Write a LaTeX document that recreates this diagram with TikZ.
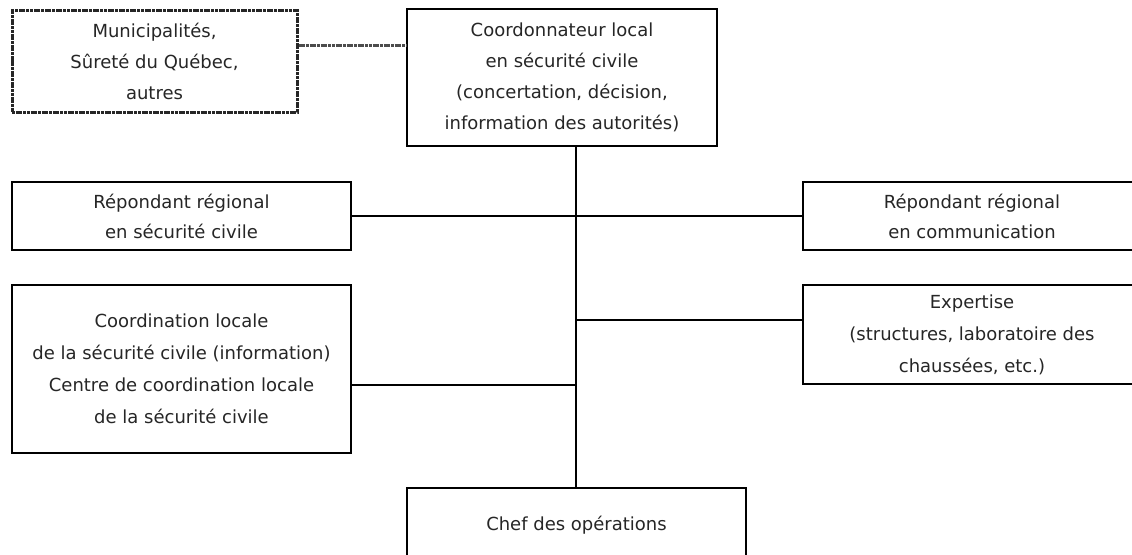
\documentclass[tikz,border=0pt]{standalone}
\usepackage{fontspec}
\setmainfont{DejaVu Sans}
\begin{document}
\begin{tikzpicture}[x=1pt,y=-1pt,
  box/.style={draw=black, line width=1.3pt, rectangle, inner sep=0pt, align=center,
    text=black!85, font=\fontsize{18}{31}\selectfont},
  dotbox/.style={box, draw=black!85, line width=3pt, dash pattern=on 3pt off 0.7pt},
  conn/.style={draw=black, line width=1.3pt},
  dotconn/.style={draw=black!70, line width=3pt, dash pattern=on 3pt off 0.7pt}]
\clip (0,0) rectangle (1132,554);
\fill[white] (0,0) rectangle (1132,554);

\node[dotbox, minimum width=285pt, minimum height=102pt] (dot) at (154.5,61)
  {Municipalités,\\Sûreté du Québec,\\autres};
\node[box, minimum width=310pt, minimum height=137pt] (top) at (562,77.5)
  {Coordonnateur local\\en sécurité civile\\(concertation, décision,\\information des autorités)};
\node[box, minimum width=339pt, minimum height=68pt, font=\fontsize{18}{30}\selectfont] (r2l) at (181.5,216)
  {Répondant régional\\en sécurité civile};
\node[box, minimum width=338pt, minimum height=68pt, font=\fontsize{18}{30}\selectfont] (r2r) at (972,216)
  {Répondant régional\\en communication};
\node[box, minimum width=339pt, minimum height=168pt, font=\fontsize{18}{32}\selectfont] (r3l) at (181.5,369)
  {Coordination locale\\de la sécurité civile (information)\\Centre de coordination locale\\de la sécurité civile};
\node[box, minimum width=338pt, minimum height=99pt, font=\fontsize{18}{32}\selectfont] (r3r) at (972,334.5)
  {Expertise\\(structures, laboratoire des\\chaussées, etc.)};
\node[box, minimum width=339pt, minimum height=74pt] (chef) at (576.5,525)
  {Chef des opérations};

\coordinate (sp) at (576,0);
\coordinate (j0) at (0,45);
\coordinate (j3) at (0,320);
\coordinate (j4) at (0,385);

\draw[dotconn] (dot.east |- j0) -- (top.west |- j0);
\draw[conn] (top.south -| sp) -- (chef.north -| sp);
\draw[conn] (r2l.east) -- (r2r.west);
\draw[conn] (sp |- j3) -- (r3r.west |- j3);
\draw[conn] (r3l.east |- j4) -- (sp |- j4);
\end{tikzpicture}
\end{document}
